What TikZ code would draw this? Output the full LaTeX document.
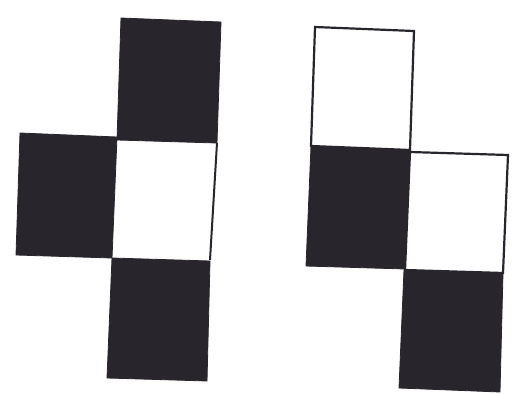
\documentclass[tikz,border=0pt]{standalone}
\definecolor{ink}{RGB}{40,38,44}
\begin{document}
\begin{tikzpicture}[x=1pt,y=-1pt,
  blk/.style={fill=ink, draw=ink, line width=0.8pt, line join=miter},
  wht/.style={fill=white, draw=ink, line width=2.2pt, line join=miter}]
\useasboundingbox[fill=white] (0,0) rectangle (512,394);
% left figure
\fill[white] (117,140) -- (217,143) -- (210,260) -- (112,258) -- cycle;
\draw[ink, line width=2pt] (217,143) -- (210,260);
\path[blk] (121,18) -- (221,22) -- (217,143) -- (117,140) -- cycle;
\path[blk] (20,133) -- (117,137) -- (112,258) -- (16,255) -- cycle;
\path[blk] (112,258) -- (210,261) -- (207,381) -- (107,378) -- cycle;
% right figure
\path[wht] (315,27) -- (414,31) -- (410,150) -- (311,146) -- cycle;
\path[wht] (410,152) -- (508,155) -- (503,273) -- (405,270) -- cycle;
\path[blk] (311,146) -- (410,150) -- (405,269) -- (306,266) -- cycle;
\path[blk] (404,270) -- (503,273) -- (500,392) -- (399,388) -- cycle;
\end{tikzpicture}
\end{document}
